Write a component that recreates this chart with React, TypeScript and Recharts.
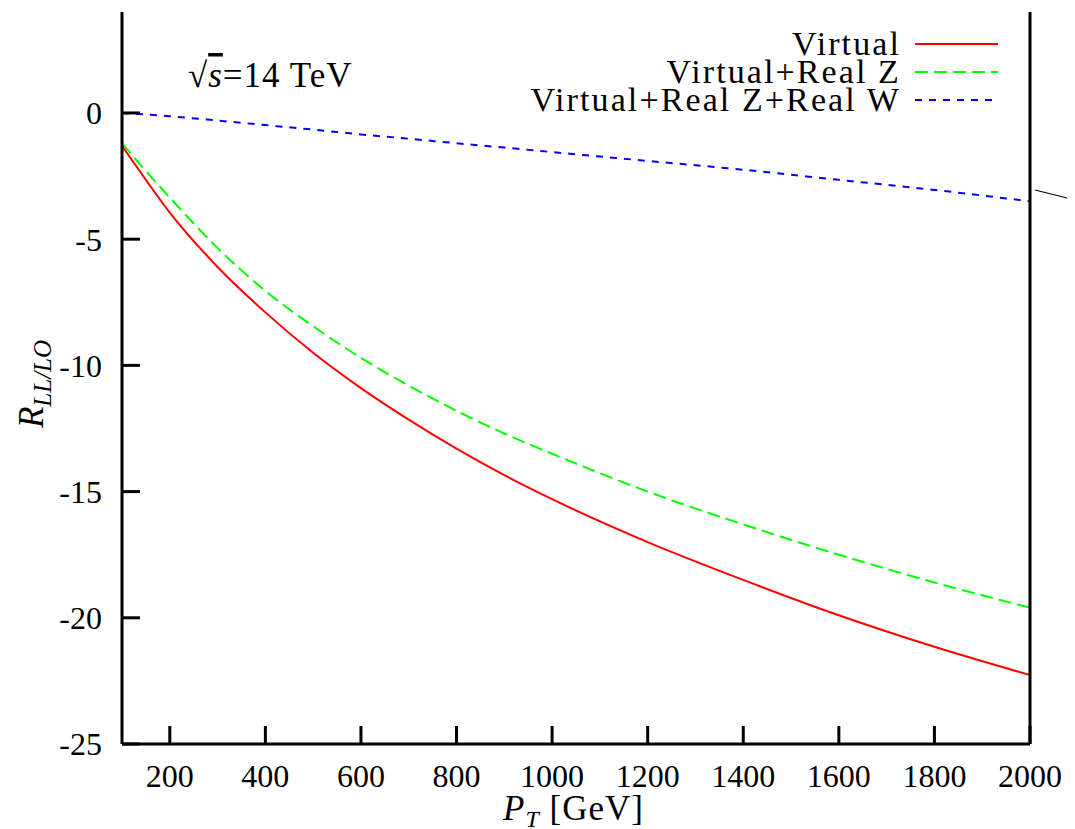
import React from "react";
import { LineChart, Line, XAxis, YAxis, Customized } from "recharts";

// P_T [GeV]
const pt = [100, 150, 200, 300, 400, 500, 600, 700, 800, 900, 1000, 1200, 1400, 1600, 1800, 2000];
// R_{LL/LO} values
const virtual = [-1.3, -2.65, -3.95, -6.1, -7.9, -9.5, -10.9, -12.15, -13.3, -14.35, -15.3, -17.0, -18.5, -19.9, -21.15, -22.27];
const virtualRealZ = [-1.2, -2.3, -3.35, -5.35, -7.05, -8.45, -9.7, -10.8, -11.8, -12.7, -13.5, -15.0, -16.3, -17.5, -18.6, -19.6];
const virtualRealZW = [0, -0.06, -0.13, -0.3, -0.48, -0.66, -0.85, -1.02, -1.2, -1.37, -1.55, -1.9, -2.25, -2.65, -3.05, -3.5];

const xTicks = [200, 400, 600, 800, 1000, 1200, 1400, 1600, 1800, 2000];
const yTicks = [-25, -20, -15, -10, -5, 0];

const seriesNames = ["Virtual", "Virtual+Real Z", "Virtual+Real Z+Real W"];
const seriesKeys = ["v", "vz", "vzw"];
const seriesColors = ["#ff0000", "#00ff00", "#0000ff"];
const seriesDash = [undefined, "13 6", "7 7"];

const data = pt.map((p, i) => ({
  pt: p,
  v: virtual[i],
  vz: virtualRealZ[i],
  vzw: virtualRealZW[i],
}));

const FONT = "'Liberation Serif', 'Times New Roman', serif";

const Decorations = () => (
  <g fontFamily={FONT} fill="#000">
    {/* sqrt(s) annotation */}
    <text x={180} y={79} fontSize={35} letterSpacing={1}>
      √<tspan fontStyle="italic" style={{ textDecoration: "overline" }}>s</tspan>=14 TeV
    </text>
    {/* legend */}
    {seriesNames.map((name, i) => (
      <g key={name}>
        <text x={893} y={47 + i * 28} fontSize={34} textAnchor="end" letterSpacing={2.1}>
          {name}
        </text>
        <line
          x1={907}
          x2={990}
          y1={36 + i * 28}
          y2={36 + i * 28}
          stroke={seriesColors[i]}
          strokeWidth={2}
          strokeDasharray={seriesDash[i]}
        />
      </g>
    ))}
    {/* y axis label */}
    <text x={35} y={376} fontSize={35} textAnchor="middle" transform="rotate(-90, 35, 376)">
      <tspan fontStyle="italic">R</tspan>
      <tspan fontStyle="italic" fontSize={25} dy={8}>LL/LO</tspan>
    </text>
    {/* x axis label */}
    <text x={495} y={812} fontSize={35} letterSpacing={1}>
      <tspan fontStyle="italic">P</tspan>
      <tspan fontStyle="italic" fontSize={24} dy={7}>T</tspan>
      <tspan dy={-7}> [GeV]</tspan>
    </text>
    {/* stray mark at right edge */}
    <line x1={1027} y1={182} x2={1067} y2={192} stroke="#000" strokeWidth={1.2} />
  </g>
);

export default function App() {
  return (
    <div style={{ width: 1067, height: 821 }}>
      <LineChart
        width={1067}
        height={821}
        data={data}
        margin={{ top: 4, right: 44, bottom: 0, left: 0 }}
        style={{ fontFamily: FONT }}
      >
        <XAxis
          xAxisId="b"
          dataKey="pt"
          type="number"
          domain={[100, 2000]}
          ticks={xTicks}
          allowDataOverflow
          height={85}
          tickSize={-18}
          tickMargin={38}
          axisLine={{ stroke: "#000", strokeWidth: 3 }}
          tickLine={{ stroke: "#000", strokeWidth: 3 }}
          tick={{ fill: "#000", fontSize: 32, fontFamily: FONT }}
        />
        <XAxis
          xAxisId="t"
          orientation="top"
          dataKey="pt"
          type="number"
          domain={[100, 2000]}
          ticks={xTicks}
          allowDataOverflow
          height={0}
          tickSize={-18}
          axisLine={{ stroke: "#000", strokeWidth: 3 }}
          tickLine={{ stroke: "#000", strokeWidth: 3 }}
          tick={false}
        />
        <YAxis
          yAxisId="l"
          type="number"
          domain={[-25, 4]}
          ticks={yTicks}
          allowDataOverflow
          width={114}
          tickSize={-18}
          tickMargin={38}
          axisLine={{ stroke: "#000", strokeWidth: 3 }}
          tickLine={{ stroke: "#000", strokeWidth: 3 }}
          tick={{ fill: "#000", fontSize: 32, fontFamily: FONT }}
        />
        <YAxis
          yAxisId="r"
          orientation="right"
          type="number"
          domain={[-25, 4]}
          ticks={yTicks}
          allowDataOverflow
          width={1}
          tickSize={-18}
          axisLine={{ stroke: "#000", strokeWidth: 3 }}
          tickLine={{ stroke: "#000", strokeWidth: 3 }}
          tick={false}
        />
        {seriesKeys.map((k, i) => (
          <Line
            key={k}
            xAxisId="b"
            yAxisId="l"
            dataKey={k}
            name={seriesNames[i]}
            type="monotone"
            stroke={seriesColors[i]}
            strokeWidth={2}
            strokeDasharray={seriesDash[i]}
            dot={false}
            activeDot={false}
            isAnimationActive={false}
          />
        ))}
        <Customized component={Decorations} />
      </LineChart>
    </div>
  );
}
